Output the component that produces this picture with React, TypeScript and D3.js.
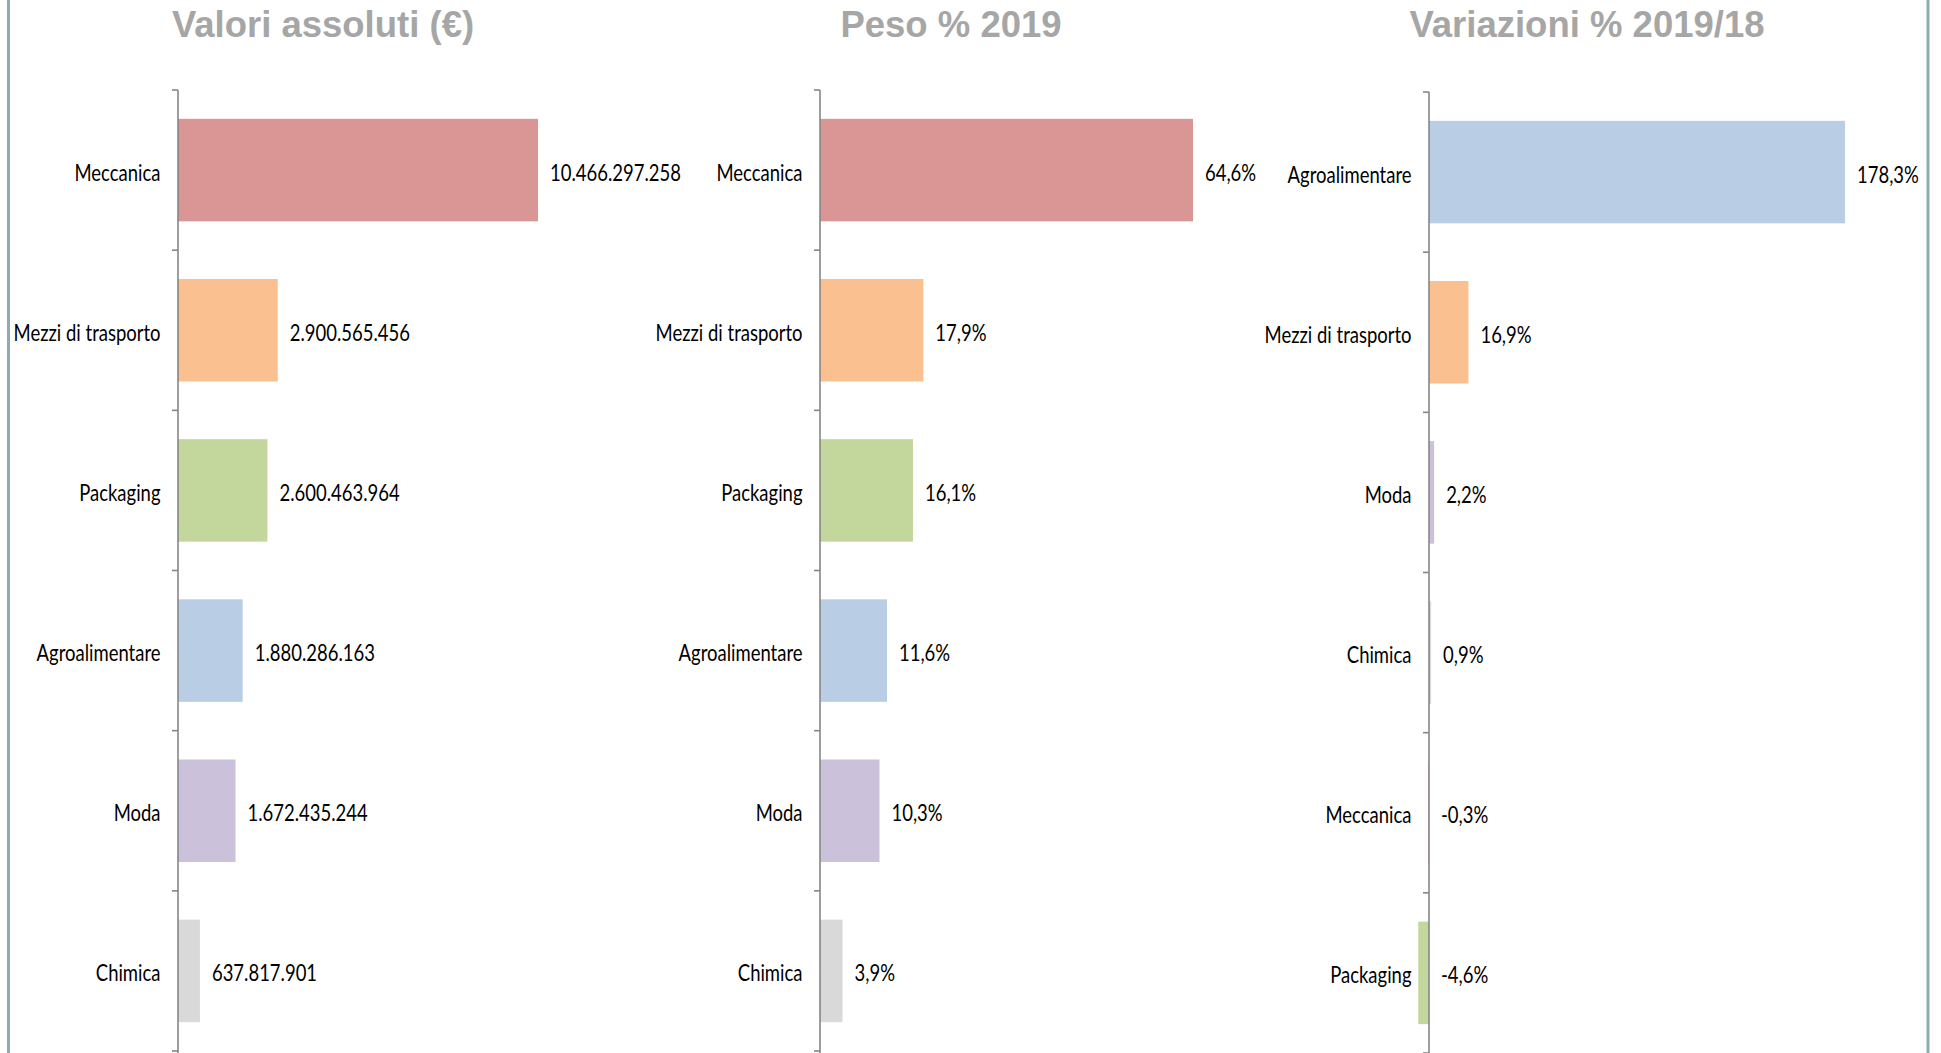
import React from "react";
import * as d3 from "d3";

const W = 1941;
const H = 1053;

// Panel 1: absolute values (€)
const absCategories = ["Meccanica", "Mezzi di trasporto", "Packaging", "Agroalimentare", "Moda", "Chimica"];
const absValues = [10466297258, 2900565456, 2600463964, 1880286163, 1672435244, 637817901];

// Panel 2: weight % 2019
const shareCategories = ["Meccanica", "Mezzi di trasporto", "Packaging", "Agroalimentare", "Moda", "Chimica"];
const shareValues = [64.6, 17.9, 16.1, 11.6, 10.3, 3.9];

// Panel 3: change % 2019/18
const changeCategories = ["Agroalimentare", "Mezzi di trasporto", "Moda", "Chimica", "Meccanica", "Packaging"];
const changeValues = [178.3, 16.9, 2.2, 0.9, -0.3, -4.6];

const titles = ["Valori assoluti (€)", "Peso % 2019", "Variazioni % 2019/18"];

const sectorColors: Record<string, string> = {
  Meccanica: "#d99694",
  "Mezzi di trasporto": "#fac090",
  Packaging: "#c3d69b",
  Agroalimentare: "#b9cde5",
  Moda: "#ccc1da",
  Chimica: "#d9d9d9",
};

const itLocale = d3.formatLocale({
  decimal: ",",
  thousands: ".",
  grouping: [3],
  currency: ["€", ""],
  minus: "-",
});
const fmtInt = itLocale.format(",d");
const fmtPct = (v: number) => itLocale.format(".1f")(v) + "%";

const LABEL_FONT = "Lato, 'Open Sans', sans-serif";
const LABEL_SIZE = 24;
const SQUEEZE = 0.77;
const TITLE_FONT = "'Liberation Sans', Arial, sans-serif";

type PanelProps = {
  title: string;
  titleX: number;
  categories: string[];
  values: number[];
  fmt: (v: number) => string;
  axisX: number;
  top: number;
  bottom: number;
  domain: [number, number];
  pxPerUnit: number;
};

function Panel(p: PanelProps) {
  const x = d3
    .scaleLinear()
    .domain(p.domain)
    .range([p.axisX + p.domain[0] * p.pxPerUnit, p.axisX + p.domain[1] * p.pxPerUnit]);
  const y = d3.scaleBand<string>().domain(p.categories).range([p.top, p.bottom]).paddingInner(0.36).paddingOuter(0.18);
  const boundaries = d3.range(p.categories.length + 1).map((i) => p.top + i * ((p.bottom - p.top) / p.categories.length));
  const x0 = x(0);
  return (
    <g>
      <text
        x={p.titleX}
        y={37}
        textAnchor="middle"
        fontFamily={TITLE_FONT}
        fontWeight="bold"
        fontSize={36.5}
        fill="#a6a6a6"
      >
        {p.title}
      </text>
      {p.categories.map((c, i) => {
        const v = p.values[i];
        const by = y(c) as number;
        const bh = y.bandwidth();
        const cy = by + bh / 2;
        return (
          <g key={c}>
            <rect
              x={Math.min(x(v), x0)}
              y={by}
              width={Math.abs(x(v) - x0)}
              height={bh}
              fill={sectorColors[c]}
            />
            <text
              transform={`translate(${x0 - 17.5},${cy + 10.5}) scale(${SQUEEZE},1)`}
              textAnchor="end"
              fontFamily={LABEL_FONT}
              fontSize={LABEL_SIZE}
              fill="#000"
            >
              {c}
            </text>
            <text
              transform={`translate(${x(Math.max(0, v)) + 12},${cy + 10.5}) scale(${SQUEEZE},1)`}
              fontFamily={LABEL_FONT}
              fontSize={LABEL_SIZE}
              fill="#000"
            >
              {p.fmt(v)}
            </text>
          </g>
        );
      })}
      <line x1={x0} x2={x0} y1={p.top} y2={H} stroke="#868686" strokeWidth={1.6} />
      {boundaries.map((b, i) => (
        <line key={i} x1={x0 - 6} x2={x0} y1={b} y2={b} stroke="#868686" strokeWidth={1.6} />
      ))}
    </g>
  );
}

export default function App() {
  return (
    <svg
      width={W}
      height={H}
      viewBox={`0 0 ${W} ${H}`}
      style={{ position: "absolute", left: 0, top: 0, background: "#fff" }}
    >
      <rect x={0} y={0} width={W} height={H} fill="#fff" />
      <Panel
        title={titles[0]}
        titleX={323}
        categories={absCategories}
        values={absValues}
        fmt={fmtInt}
        axisX={178}
        top={90}
        bottom={1051}
        domain={[0, 12e9]}
        pxPerUnit={360 / 10466297258}
      />
      <Panel
        title={titles[1]}
        titleX={951}
        categories={shareCategories}
        values={shareValues}
        fmt={fmtPct}
        axisX={820}
        top={90}
        bottom={1051}
        domain={[0, 70]}
        pxPerUnit={373 / 64.6}
      />
      <Panel
        title={titles[2]}
        titleX={1587}
        categories={changeCategories}
        values={changeValues}
        fmt={fmtPct}
        axisX={1429}
        top={92}
        bottom={1053}
        domain={[-10, 180]}
        pxPerUnit={416 / 178.3}
      />
      <line x1={8.5} x2={8.5} y1={0} y2={H} stroke="#8eabad" strokeWidth={3} />
      <line x1={1928} x2={1928} y1={0} y2={H} stroke="#8eabad" strokeWidth={3} />
    </svg>
  );
}
